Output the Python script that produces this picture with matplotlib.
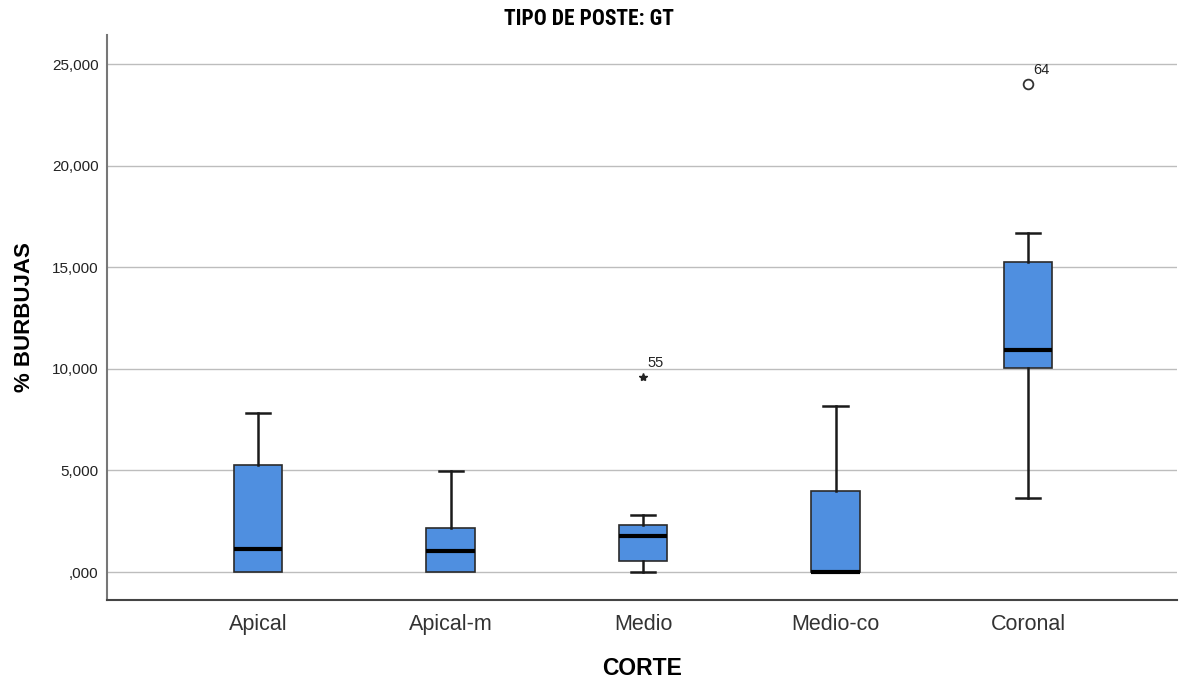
"""Box plot of % burbujas by corte, tipo de poste GT."""

import matplotlib

matplotlib.use("Agg")

import matplotlib.pyplot as plt
from matplotlib import font_manager

plt.rcParams["font.family"] = ["Liberation Sans", "DejaVu Sans"]

CATEGORIES = ["Apical", "Apical-m", "Medio", "Medio-co", "Coronal"]
WHISKER_LOW = [0.0, 0.0, 0.0, 0.0, 3.65]
Q1 = [0.0, 0.0, 0.52, 0.0, 10.03]
MEDIAN = [1.12, 1.02, 1.77, 0.0, 10.95]
Q3 = [5.26, 2.16, 2.31, 3.98, 15.25]
WHISKER_HIGH = [7.81, 4.96, 2.8, 8.16, 16.7]

# outliers: (category index, value, case label, marker)
OUTLIER_CAT = [2, 4]
OUTLIER_VAL = [9.58, 24.03]
OUTLIER_CASE = ["55", "64"]
OUTLIER_MARK = ["*", "o"]

YTICKS = [0, 5, 10, 15, 20, 25]
YTICK_LABELS = [",000", "5,000", "10,000", "15,000", "20,000", "25,000"]

BOX_COLOR = "#4f8fe0"


def title_font() -> dict:
    """Pick a narrow bold face for the title if one is installed."""
    names = {f.name for f in font_manager.fontManager.ttflist}
    for cand in ("Liberation Sans Narrow", "DejaVu Sans Condensed", "Roboto Condensed"):
        if cand in names:
            return {"family": cand, "fontsize": 15.5}
    stretched = [f for f in font_manager.fontManager.ttflist
                 if f.name == "DejaVu Sans" and f.stretch == "condensed"]
    if stretched:
        return {"family": "DejaVu Sans", "fontstretch": "condensed", "fontsize": 13}
    return {"family": "Liberation Sans", "fontsize": 12.5}


def main() -> None:
    fig = plt.figure(figsize=(11.79, 6.82), dpi=100)
    ax = fig.add_axes([0.0908, 0.1202, 0.9075, 0.8285])

    stats = []
    for i, name in enumerate(CATEGORIES):
        stats.append(
            {
                "label": name,
                "whislo": WHISKER_LOW[i],
                "q1": Q1[i],
                "med": MEDIAN[i],
                "q3": Q3[i],
                "whishi": WHISKER_HIGH[i],
                "fliers": [],
            }
        )

    positions = list(range(1, len(CATEGORIES) + 1))
    parts = ax.bxp(
        stats,
        positions=positions,
        widths=0.25,
        patch_artist=True,
        showfliers=False,
        boxprops={"facecolor": BOX_COLOR, "edgecolor": "#2b2b2b", "linewidth": 1.2},
        medianprops={"color": "#000000", "linewidth": 3.0, "solid_capstyle": "butt"},
        whiskerprops={"color": "#1a1a1a", "linewidth": 1.8},
        capprops={"color": "#1a1a1a", "linewidth": 1.8},
        capwidths=0.125,
        zorder=3,
    )
    # SPSS draws no cap when the whisker has zero length
    for i in range(len(CATEGORIES)):
        if WHISKER_LOW[i] == Q1[i]:
            parts["caps"][2 * i].set_visible(False)
        if WHISKER_HIGH[i] == Q3[i]:
            parts["caps"][2 * i + 1].set_visible(False)

    for cat, val, case, mark in zip(OUTLIER_CAT, OUTLIER_VAL, OUTLIER_CASE, OUTLIER_MARK):
        x = positions[cat]
        if mark == "o":
            ax.plot(x, val, marker="o", markersize=7, markerfacecolor="white",
                    markeredgecolor="#333333", markeredgewidth=1.3, zorder=4)
        else:
            ax.plot(x, val, marker="*", markersize=6, color="#222222", zorder=4)
        ax.text(x + 0.025, val + 0.35, case, fontsize=10.5, color="#222222",
                ha="left", va="bottom")

    ax.set_xlim(0.2156, 5.774)
    ax.set_ylim(-1.378, 26.43)
    ax.set_xticks(positions)
    ax.set_xticklabels(CATEGORIES, fontsize=15.5, color="#333333")
    ax.set_yticks(YTICKS)
    ax.set_yticklabels(YTICK_LABELS, fontsize=11, color="#222222")
    ax.tick_params(axis="both", length=0, pad=6)
    ax.tick_params(axis="x", pad=10)

    ax.grid(axis="y", color="#bdbdbd", linewidth=1.0, zorder=0)
    ax.set_axisbelow(True)
    for side in ("top", "right"):
        ax.spines[side].set_visible(False)
    ax.spines["left"].set_color("#777777")
    ax.spines["left"].set_linewidth(1.5)
    ax.spines["bottom"].set_color("#444444")
    ax.spines["bottom"].set_linewidth(1.5)

    ax.set_xlabel("CORTE", fontsize=16.5, fontweight="bold", labelpad=16)
    ax.set_ylabel("% BURBUJAS", fontsize=16, fontweight="bold", labelpad=12)
    fig.text(0.4995, 0.972, "TIPO DE POSTE: GT", fontweight="bold",
             ha="center", va="center", **title_font())

    fig.savefig("out.png", dpi=100)
    plt.close(fig)


if __name__ == "__main__":
    main()
